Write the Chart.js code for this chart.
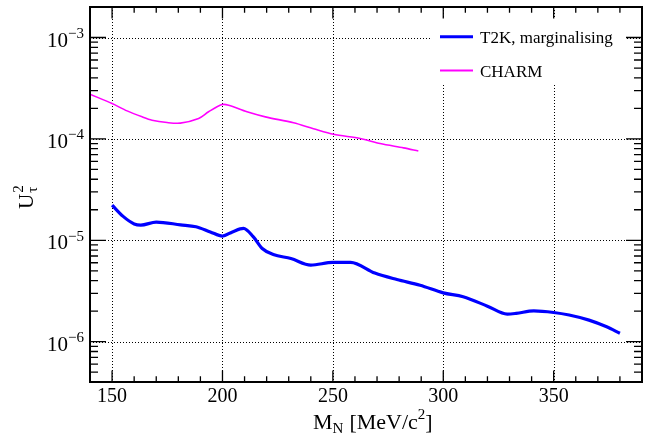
<!DOCTYPE html>
<html>
<head>
<meta charset="utf-8">
<script src="https://cdn.jsdelivr.net/npm/chart.js@4.4.1/dist/chart.umd.min.js"></script>
<style>
  html, body { margin: 0; padding: 0; background: #fff; }
  #wrap { width: 657px; height: 440px; }
</style>
</head>
<body>
<div id="wrap"><canvas id="c" width="657" height="440"></canvas></div>
<script>
// ---- data ----
const t2kMass = [150, 155, 160, 163, 170, 181, 188, 194.5, 200, 204.5, 209.5, 214, 218, 223, 231, 240, 250, 258, 269, 279, 289.5, 300, 309, 320, 329, 333, 341, 350, 357, 366, 374, 380];
const t2kU2   = [2.22e-5, 1.72e-5, 1.45e-5, 1.41e-5, 1.51e-5, 1.42e-5, 1.36e-5, 1.21e-5, 1.10e-5, 1.21e-5, 1.31e-5, 1.08e-5, 8.3e-6, 7.24e-6, 6.6e-6, 5.68e-6, 6.05e-6, 6.05e-6, 4.75e-6, 4.1e-6, 3.6e-6, 3.03e-6, 2.77e-6, 2.24e-6, 1.87e-6, 1.9e-6, 2.01e-6, 1.94e-6, 1.83e-6, 1.63e-6, 1.40e-6, 1.21e-6];
const charmMass = [140, 150, 156.8, 163.6, 168.1, 174.9, 180.9, 189.2, 193.7, 199.8, 202.8, 211.1, 219.4, 232.2, 241.2, 250.3, 262.4, 271.4, 282, 288.7];
const charmU2   = [2.76e-4, 2.23e-4, 1.89e-4, 1.65e-4, 1.53e-4, 1.45e-4, 1.43e-4, 1.59e-4, 1.85e-4, 2.18e-4, 2.15e-4, 1.85e-4, 1.65e-4, 1.44e-4, 1.26e-4, 1.11e-4, 1.01e-4, 9.0e-5, 8.15e-5, 7.6e-5];
const seriesNames = ["T2K, marginalising", "CHARM"];
const xTickValues = [150, 200, 250, 300, 350];
const yTickValues = [1e-6, 1e-5, 1e-4, 1e-3];
const xRange = [140, 390];
const yRange = [4e-7, 2e-3];

const FONT = '"Liberation Serif", "DejaVu Serif", serif';
const BLUE = '#0000ff';
const MAGENTA = '#ff00ff';

const toPts = (xs, ys) => xs.map((x, i) => ({x: x, y: ys[i]}));

const decor = {
  id: 'decor',
  beforeDatasetsDraw(chart) {
    const ctx = chart.ctx, a = chart.chartArea;
    const xs = chart.scales.x, ys = chart.scales.y;
    ctx.save();
    ctx.strokeStyle = '#000';
    ctx.lineWidth = 1;
    ctx.setLineDash([1, 2]);
    xTickValues.forEach(v => {
      const p = Math.round(xs.getPixelForValue(v)) + 0.5;
      ctx.beginPath(); ctx.moveTo(p, a.top); ctx.lineTo(p, a.bottom); ctx.stroke();
    });
    yTickValues.forEach(v => {
      const p = Math.round(ys.getPixelForValue(v)) + 0.5;
      ctx.beginPath(); ctx.moveTo(a.left, p); ctx.lineTo(a.right, p); ctx.stroke();
    });
    // legend background box (covers grid)
    ctx.fillStyle = '#fff';
    ctx.fillRect(432, 18, 195, 67);
    ctx.restore();
  },
  afterDraw(chart) {
    const ctx = chart.ctx, a = chart.chartArea;
    const xs = chart.scales.x, ys = chart.scales.y;
    ctx.save();
    ctx.strokeStyle = '#000';
    ctx.fillStyle = '#000';
    ctx.setLineDash([]);
    // ticks (inside)
    ctx.lineWidth = 1.3;
    for (let v = xRange[0]; v <= xRange[1]; v += 10) {
      const p = xs.getPixelForValue(v);
      const major = xTickValues.includes(v);
      const L = major ? 11.5 : 5.8;
      ctx.beginPath();
      ctx.moveTo(p, a.bottom); ctx.lineTo(p, a.bottom - L);
      ctx.moveTo(p, a.top); ctx.lineTo(p, a.top + L);
      ctx.stroke();
    }
    for (let e = -7; e <= -3; e++) {
      for (let m = 1; m <= 9; m++) {
        const v = m * Math.pow(10, e);
        if (v < yRange[0] * 0.999 || v > yRange[1] * 1.001) continue;
        const p = ys.getPixelForValue(v);
        const L = m === 1 ? 16 : 8;
        ctx.beginPath();
        ctx.moveTo(a.left, p); ctx.lineTo(a.left + L, p);
        ctx.moveTo(a.right, p); ctx.lineTo(a.right - L, p);
        ctx.stroke();
      }
    }
    // frame
    ctx.lineWidth = 2;
    ctx.strokeRect(a.left, a.top, a.right - a.left, a.bottom - a.top);

    // x tick labels
    ctx.font = '20px ' + FONT;
    ctx.textAlign = 'center';
    ctx.textBaseline = 'alphabetic';
    xTickValues.forEach(v => {
      ctx.fillText(String(v), xs.getPixelForValue(v), a.bottom + 19.5);
    });
    // y tick labels 10^n
    yTickValues.forEach(v => {
      const p = ys.getPixelForValue(v);
      const ex = '\u2212' + Math.round(-Math.log10(v));
      ctx.font = '15px ' + FONT;
      const w2 = ctx.measureText(ex).width;
      ctx.font = '21px ' + FONT;
      const w1 = ctx.measureText('10').width;
      const right = a.left - 6;
      ctx.textAlign = 'left';
      ctx.fillText('10', right - w2 - w1, p + 9);
      ctx.font = '15px ' + FONT;
      ctx.fillText(ex, right - w2, p + 0.5);
    });
    // x title
    {
      const base = 429;
      let x = 313;
      ctx.textAlign = 'left';
      ctx.font = '22px ' + FONT;
      ctx.fillText('M', x, base); x += ctx.measureText('M').width;
      ctx.font = '15px ' + FONT;
      ctx.fillText('N', x, base + 4); x += ctx.measureText('N').width + 6;
      ctx.font = '22px ' + FONT;
      ctx.fillText('[MeV/c', x, base); x += ctx.measureText('[MeV/c').width;
      ctx.font = '15px ' + FONT;
      ctx.fillText('2', x, base - 10); x += ctx.measureText('2').width;
      ctx.font = '22px ' + FONT;
      ctx.fillText(']', x, base);
    }
    // y title (rotated)
    {
      ctx.save();
      ctx.translate(33, 209);
      ctx.rotate(-Math.PI / 2);
      ctx.textAlign = 'left';
      ctx.font = '21px ' + FONT;
      ctx.fillText('U', 0, 0);
      const w = ctx.measureText('U').width;
      ctx.font = '15px ' + FONT;
      ctx.fillText('2', w + 1, -10);
      ctx.fillText('\u03c4', w + 1, 4);
      ctx.restore();
    }
    // legend
    {
      const items = [
        {name: seriesNames[0], color: BLUE, lw: 3, y: 36.7},
        {name: seriesNames[1], color: MAGENTA, lw: 2, y: 70.5}
      ];
      items.forEach(it => {
        ctx.strokeStyle = it.color;
        ctx.lineWidth = it.lw;
        ctx.beginPath(); ctx.moveTo(440, it.y); ctx.lineTo(473, it.y); ctx.stroke();
        ctx.fillStyle = '#000';
        ctx.font = '17px ' + FONT;
        ctx.textAlign = 'left';
        ctx.fillText(it.name, 480, it.y + 6.5);
      });
    }
    ctx.restore();
  }
};

new Chart(document.getElementById('c'), {
  type: 'line',
  data: {
    datasets: [
      {
        label: seriesNames[0],
        data: toPts(t2kMass, t2kU2),
        borderColor: BLUE,
        borderWidth: 3.2,
        pointRadius: 0,
        fill: false,
        cubicInterpolationMode: 'monotone'
      },
      {
        label: seriesNames[1],
        data: toPts(charmMass, charmU2),
        borderColor: MAGENTA,
        borderWidth: 1.6,
        pointRadius: 0,
        fill: false,
        tension: 0.3
      }
    ]
  },
  options: {
    responsive: false,
    animation: false,
    devicePixelRatio: 1,
    layout: { padding: { top: 7, right: 15, left: 0, bottom: 0 } },
    plugins: { legend: { display: false }, tooltip: { enabled: false } },
    scales: {
      x: {
        type: 'linear', min: xRange[0], max: xRange[1],
        grid: { display: false }, border: { display: false },
        ticks: { display: false },
        afterFit: s => { s.height = 58; }
      },
      y: {
        type: 'logarithmic', min: yRange[0], max: yRange[1],
        grid: { display: false }, border: { display: false },
        ticks: { display: false },
        afterFit: s => { s.width = 90; }
      }
    }
  },
  plugins: [decor]
});
</script>
</body>
</html>
